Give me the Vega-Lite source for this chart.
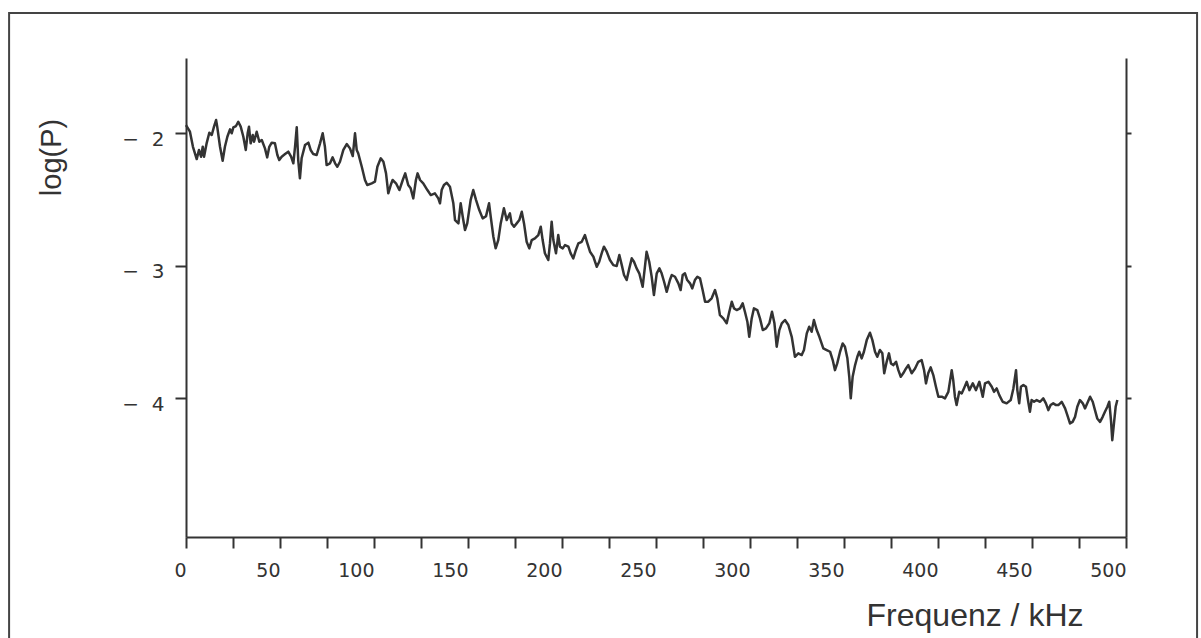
{
  "$schema": "https://vega.github.io/schema/vega-lite/v6.json",
  "width": 940,
  "height": 479,
  "autosize": {"type": "none"},
  "padding": {"left": 186, "top": 58, "right": 75, "bottom": 101},
  "background": "white",
  "config": {"view": {"stroke": null}},
  "resolve": {"axis": {"x": "independent", "y": "independent"}},
  "layer": [
    {
      "data": {"values": [{"frame": 1}]},
      "mark": {"type": "rect", "filled": false, "stroke": "#444444", "strokeWidth": 2, "clip": false},
      "encoding": {
        "x": {"datum": -94.1, "type": "quantitative", "scale": {"domain": [0, 500], "nice": false, "zero": false}, "axis": null},
        "x2": {"datum": 537.8},
        "y": {"datum": -1.09, "type": "quantitative", "scale": {"domain": [-5.05, -1.43], "nice": false, "zero": false},
          "axis": {"orient": "right", "values": [-2, -3, -4], "labels": false, "tickSize": 5, "tickWidth": 2, "tickColor": "#333333", "domainColor": "#333333", "domainWidth": 2, "grid": false, "title": null}},
        "y2": {"datum": -5.9}
      }
    },
    {
      "data": {"values": [
        {"kHz": 0.0, "logP": -1.937}, {"kHz": 2.1, "logP": -1.987}, {"kHz": 3.7, "logP": -2.101}, {"kHz": 5.7, "logP": -2.194}, {"kHz": 6.9, "logP": -2.125}, {"kHz": 8.0, "logP": -2.176}, {"kHz": 8.9, "logP": -2.101}, {"kHz": 9.6, "logP": -2.176}, {"kHz": 11.0, "logP": -2.073}, {"kHz": 12.4, "logP": -1.995}, {"kHz": 13.7, "logP": -2.012}, {"kHz": 14.9, "logP": -1.949}, {"kHz": 16.0, "logP": -1.899}, {"kHz": 16.6, "logP": -1.949}, {"kHz": 18.1, "logP": -2.101}, {"kHz": 19.5, "logP": -2.206}, {"kHz": 20.7, "logP": -2.101}, {"kHz": 22.0, "logP": -2.025}, {"kHz": 23.4, "logP": -1.969}, {"kHz": 24.3, "logP": -1.999}, {"kHz": 25.2, "logP": -1.954}, {"kHz": 26.6, "logP": -1.944}, {"kHz": 27.8, "logP": -1.912}, {"kHz": 29.1, "logP": -1.949}, {"kHz": 30.5, "logP": -2.025}, {"kHz": 31.8, "logP": -2.125}, {"kHz": 32.8, "logP": -1.999}, {"kHz": 33.5, "logP": -1.949}, {"kHz": 34.4, "logP": -2.075}, {"kHz": 35.5, "logP": -2.012}, {"kHz": 36.2, "logP": -2.063}, {"kHz": 37.6, "logP": -1.987}, {"kHz": 39.0, "logP": -2.063}, {"kHz": 40.3, "logP": -2.05}, {"kHz": 42.0, "logP": -2.113}, {"kHz": 43.2, "logP": -2.181}, {"kHz": 44.3, "logP": -2.101}, {"kHz": 45.6, "logP": -2.07}, {"kHz": 47.3, "logP": -2.075}, {"kHz": 48.6, "logP": -2.163}, {"kHz": 49.6, "logP": -2.201}, {"kHz": 50.9, "logP": -2.176}, {"kHz": 52.7, "logP": -2.156}, {"kHz": 54.4, "logP": -2.138}, {"kHz": 55.9, "logP": -2.176}, {"kHz": 57.1, "logP": -2.226}, {"kHz": 58.0, "logP": -2.101}, {"kHz": 58.9, "logP": -1.954}, {"kHz": 59.7, "logP": -2.201}, {"kHz": 60.6, "logP": -2.339}, {"kHz": 61.5, "logP": -2.188}, {"kHz": 63.3, "logP": -2.088}, {"kHz": 65.1, "logP": -2.07}, {"kHz": 66.3, "logP": -2.125}, {"kHz": 67.7, "logP": -2.156}, {"kHz": 69.5, "logP": -2.163}, {"kHz": 71.3, "logP": -2.075}, {"kHz": 72.7, "logP": -1.999}, {"kHz": 73.9, "logP": -2.101}, {"kHz": 74.8, "logP": -2.239}, {"kHz": 76.6, "logP": -2.226}, {"kHz": 78.0, "logP": -2.181}, {"kHz": 79.3, "logP": -2.226}, {"kHz": 80.5, "logP": -2.252}, {"kHz": 81.9, "logP": -2.214},
        {"kHz": 83.7, "logP": -2.125}, {"kHz": 85.5, "logP": -2.08}, {"kHz": 87.2, "logP": -2.113}, {"kHz": 88.7, "logP": -2.171}, {"kHz": 89.9, "logP": -1.999}, {"kHz": 90.8, "logP": -2.125}, {"kHz": 91.6, "logP": -2.15}, {"kHz": 93.5, "logP": -2.252}, {"kHz": 95.2, "logP": -2.352}, {"kHz": 96.4, "logP": -2.39}, {"kHz": 98.8, "logP": -2.377}, {"kHz": 100.5, "logP": -2.365}, {"kHz": 101.8, "logP": -2.252}, {"kHz": 103.6, "logP": -2.188}, {"kHz": 105.0, "logP": -2.214}, {"kHz": 106.4, "logP": -2.302}, {"kHz": 107.6, "logP": -2.453}, {"kHz": 108.9, "logP": -2.39}, {"kHz": 109.9, "logP": -2.352}, {"kHz": 111.7, "logP": -2.377}, {"kHz": 113.5, "logP": -2.428}, {"kHz": 115.3, "logP": -2.352}, {"kHz": 116.6, "logP": -2.302}, {"kHz": 118.2, "logP": -2.39}, {"kHz": 119.5, "logP": -2.415}, {"kHz": 120.9, "logP": -2.491}, {"kHz": 122.3, "logP": -2.352}, {"kHz": 123.2, "logP": -2.302}, {"kHz": 124.5, "logP": -2.352}, {"kHz": 126.2, "logP": -2.377}, {"kHz": 128.4, "logP": -2.428}, {"kHz": 130.2, "logP": -2.466}, {"kHz": 132.4, "logP": -2.453}, {"kHz": 134.2, "logP": -2.491}, {"kHz": 135.1, "logP": -2.528}, {"kHz": 136.0, "logP": -2.428}, {"kHz": 137.2, "logP": -2.39}, {"kHz": 138.7, "logP": -2.373}, {"kHz": 140.4, "logP": -2.403}, {"kHz": 142.2, "logP": -2.528}, {"kHz": 143.1, "logP": -2.655}, {"kHz": 144.9, "logP": -2.68}, {"kHz": 146.1, "logP": -2.528}, {"kHz": 147.2, "logP": -2.63}, {"kHz": 148.4, "logP": -2.73}, {"kHz": 149.6, "logP": -2.68}, {"kHz": 151.4, "logP": -2.504}, {"kHz": 152.8, "logP": -2.428}, {"kHz": 154.3, "logP": -2.504}, {"kHz": 156.0, "logP": -2.579}, {"kHz": 157.8, "logP": -2.642}, {"kHz": 159.6, "logP": -2.625}, {"kHz": 161.2, "logP": -2.528}, {"kHz": 162.1, "logP": -2.63}, {"kHz": 163.5, "logP": -2.781}, {"kHz": 164.7, "logP": -2.868}, {"kHz": 166.1, "logP": -2.806}, {"kHz": 167.4, "logP": -2.68}, {"kHz": 169.1, "logP": -2.566}, {"kHz": 170.6, "logP": -2.655},
        {"kHz": 171.4, "logP": -2.63}, {"kHz": 172.3, "logP": -2.604}, {"kHz": 173.2, "logP": -2.68}, {"kHz": 174.5, "logP": -2.705}, {"kHz": 175.9, "logP": -2.68}, {"kHz": 177.3, "logP": -2.655}, {"kHz": 178.6, "logP": -2.592}, {"kHz": 179.8, "logP": -2.68}, {"kHz": 181.2, "logP": -2.819}, {"kHz": 182.6, "logP": -2.869}, {"kHz": 183.9, "logP": -2.806}, {"kHz": 185.6, "logP": -2.793}, {"kHz": 187.4, "logP": -2.768}, {"kHz": 188.7, "logP": -2.705}, {"kHz": 189.7, "logP": -2.806}, {"kHz": 190.9, "logP": -2.906}, {"kHz": 192.7, "logP": -2.957}, {"kHz": 193.6, "logP": -2.831}, {"kHz": 194.5, "logP": -2.667}, {"kHz": 195.4, "logP": -2.806}, {"kHz": 196.8, "logP": -2.906}, {"kHz": 198.0, "logP": -2.768}, {"kHz": 198.9, "logP": -2.856}, {"kHz": 200.4, "logP": -2.869}, {"kHz": 201.6, "logP": -2.844}, {"kHz": 203.4, "logP": -2.856}, {"kHz": 204.6, "logP": -2.906}, {"kHz": 206.0, "logP": -2.944}, {"kHz": 207.4, "logP": -2.881}, {"kHz": 208.7, "logP": -2.831}, {"kHz": 210.5, "logP": -2.819}, {"kHz": 212.2, "logP": -2.768}, {"kHz": 213.5, "logP": -2.831}, {"kHz": 214.9, "logP": -2.894}, {"kHz": 216.7, "logP": -2.932}, {"kHz": 218.5, "logP": -3.008}, {"kHz": 219.8, "logP": -2.97}, {"kHz": 221.1, "logP": -2.906}, {"kHz": 222.3, "logP": -2.856}, {"kHz": 223.8, "logP": -2.894}, {"kHz": 225.5, "logP": -2.957}, {"kHz": 227.3, "logP": -2.995}, {"kHz": 229.1, "logP": -3.002}, {"kHz": 230.5, "logP": -2.919}, {"kHz": 231.8, "logP": -2.995}, {"kHz": 233.0, "logP": -3.07}, {"kHz": 234.4, "logP": -3.108}, {"kHz": 235.8, "logP": -3.02}, {"kHz": 237.1, "logP": -2.944}, {"kHz": 238.3, "logP": -2.97}, {"kHz": 239.7, "logP": -3.02}, {"kHz": 241.1, "logP": -3.057}, {"kHz": 242.9, "logP": -3.159}, {"kHz": 244.1, "logP": -3.008}, {"kHz": 245.0, "logP": -2.894}, {"kHz": 246.4, "logP": -2.97}, {"kHz": 247.7, "logP": -3.083}, {"kHz": 248.9, "logP": -3.221}, {"kHz": 250.4, "logP": -3.057}, {"kHz": 251.8, "logP": -3.02}, {"kHz": 253.0, "logP": -3.057}, {"kHz": 254.3, "logP": -3.121}, {"kHz": 255.7, "logP": -3.197}, {"kHz": 257.4, "logP": -3.108},
        {"kHz": 258.4, "logP": -3.07}, {"kHz": 260.1, "logP": -3.083}, {"kHz": 261.9, "logP": -3.133}, {"kHz": 263.1, "logP": -3.184}, {"kHz": 264.2, "logP": -3.07}, {"kHz": 265.4, "logP": -3.057}, {"kHz": 266.6, "logP": -3.108}, {"kHz": 268.1, "logP": -3.133}, {"kHz": 269.3, "logP": -3.171}, {"kHz": 270.7, "logP": -3.108}, {"kHz": 272.0, "logP": -3.083}, {"kHz": 273.4, "logP": -3.095}, {"kHz": 274.8, "logP": -3.184}, {"kHz": 276.1, "logP": -3.272}, {"kHz": 277.8, "logP": -3.272}, {"kHz": 279.6, "logP": -3.246}, {"kHz": 281.4, "logP": -3.184}, {"kHz": 282.6, "logP": -3.246}, {"kHz": 284.0, "logP": -3.373}, {"kHz": 285.8, "logP": -3.398}, {"kHz": 287.6, "logP": -3.435}, {"kHz": 289.0, "logP": -3.348}, {"kHz": 290.3, "logP": -3.272}, {"kHz": 291.5, "logP": -3.322}, {"kHz": 292.9, "logP": -3.335}, {"kHz": 294.7, "logP": -3.322}, {"kHz": 296.1, "logP": -3.284}, {"kHz": 297.3, "logP": -3.348}, {"kHz": 298.6, "logP": -3.423}, {"kHz": 299.6, "logP": -3.537}, {"kHz": 300.9, "logP": -3.398}, {"kHz": 302.1, "logP": -3.322}, {"kHz": 303.9, "logP": -3.335}, {"kHz": 305.3, "logP": -3.398}, {"kHz": 306.8, "logP": -3.486}, {"kHz": 308.5, "logP": -3.473}, {"kHz": 310.3, "logP": -3.435}, {"kHz": 311.7, "logP": -3.348}, {"kHz": 313.0, "logP": -3.435}, {"kHz": 314.2, "logP": -3.612}, {"kHz": 315.6, "logP": -3.486}, {"kHz": 316.9, "logP": -3.435}, {"kHz": 318.6, "logP": -3.41}, {"kHz": 320.4, "logP": -3.448}, {"kHz": 322.2, "logP": -3.537}, {"kHz": 323.9, "logP": -3.688}, {"kHz": 325.7, "logP": -3.662}, {"kHz": 327.5, "logP": -3.675}, {"kHz": 328.7, "logP": -3.637}, {"kHz": 330.2, "logP": -3.511}, {"kHz": 331.5, "logP": -3.461}, {"kHz": 332.8, "logP": -3.499}, {"kHz": 334.0, "logP": -3.41}, {"kHz": 335.5, "logP": -3.486}, {"kHz": 336.9, "logP": -3.537}, {"kHz": 339.0, "logP": -3.624}, {"kHz": 340.8, "logP": -3.637},
        {"kHz": 342.6, "logP": -3.65}, {"kHz": 344.0, "logP": -3.713}, {"kHz": 345.2, "logP": -3.789}, {"kHz": 346.4, "logP": -3.738}, {"kHz": 347.9, "logP": -3.65}, {"kHz": 349.3, "logP": -3.587}, {"kHz": 350.5, "logP": -3.612}, {"kHz": 351.8, "logP": -3.7}, {"kHz": 352.8, "logP": -3.839}, {"kHz": 353.6, "logP": -4.002}, {"kHz": 354.6, "logP": -3.839}, {"kHz": 355.9, "logP": -3.751}, {"kHz": 357.1, "logP": -3.688}, {"kHz": 358.1, "logP": -3.65}, {"kHz": 359.4, "logP": -3.7}, {"kHz": 360.6, "logP": -3.65}, {"kHz": 362.1, "logP": -3.562}, {"kHz": 363.8, "logP": -3.506}, {"kHz": 365.1, "logP": -3.562}, {"kHz": 366.5, "logP": -3.65}, {"kHz": 367.7, "logP": -3.688}, {"kHz": 369.1, "logP": -3.637}, {"kHz": 370.4, "logP": -3.662}, {"kHz": 371.4, "logP": -3.813}, {"kHz": 372.7, "logP": -3.726}, {"kHz": 373.9, "logP": -3.662}, {"kHz": 375.0, "logP": -3.738}, {"kHz": 376.2, "logP": -3.751}, {"kHz": 377.7, "logP": -3.726}, {"kHz": 378.9, "logP": -3.789}, {"kHz": 380.2, "logP": -3.839}, {"kHz": 381.5, "logP": -3.813}, {"kHz": 383.0, "logP": -3.776}, {"kHz": 384.2, "logP": -3.751}, {"kHz": 386.0, "logP": -3.813}, {"kHz": 387.8, "logP": -3.776}, {"kHz": 389.5, "logP": -3.726}, {"kHz": 391.3, "logP": -3.713}, {"kHz": 392.6, "logP": -3.789}, {"kHz": 393.6, "logP": -3.889}, {"kHz": 394.8, "logP": -3.813}, {"kHz": 396.1, "logP": -3.768}, {"kHz": 397.5, "logP": -3.826}, {"kHz": 398.9, "logP": -3.915}, {"kHz": 400.2, "logP": -3.99}, {"kHz": 402.0, "logP": -3.99}, {"kHz": 403.7, "logP": -4.002}, {"kHz": 405.5, "logP": -3.953}, {"kHz": 407.3, "logP": -3.789}, {"kHz": 408.1, "logP": -3.864}, {"kHz": 409.0, "logP": -3.99}, {"kHz": 409.9, "logP": -4.053}, {"kHz": 411.3, "logP": -3.953}, {"kHz": 412.6, "logP": -3.965}, {"kHz": 413.8, "logP": -3.927}, {"kHz": 415.3, "logP": -3.877}, {"kHz": 416.7, "logP": -3.94}, {"kHz": 418.5, "logP": -3.889}, {"kHz": 420.2, "logP": -3.94}, {"kHz": 422.0, "logP": -3.877},
        {"kHz": 423.8, "logP": -3.99}, {"kHz": 425.0, "logP": -3.889}, {"kHz": 426.8, "logP": -3.877}, {"kHz": 428.6, "logP": -3.915}, {"kHz": 429.8, "logP": -3.953}, {"kHz": 431.2, "logP": -3.927}, {"kHz": 432.6, "logP": -3.978}, {"kHz": 434.4, "logP": -4.028}, {"kHz": 436.5, "logP": -4.04}, {"kHz": 438.7, "logP": -4.015}, {"kHz": 440.1, "logP": -3.927}, {"kHz": 441.5, "logP": -3.789}, {"kHz": 442.2, "logP": -3.94}, {"kHz": 443.2, "logP": -4.04}, {"kHz": 444.1, "logP": -3.915}, {"kHz": 445.4, "logP": -3.902}, {"kHz": 446.8, "logP": -3.915}, {"kHz": 448.0, "logP": -4.028}, {"kHz": 448.9, "logP": -4.104}, {"kHz": 449.8, "logP": -4.015}, {"kHz": 451.1, "logP": -4.028}, {"kHz": 452.5, "logP": -4.015}, {"kHz": 454.3, "logP": -4.028}, {"kHz": 456.0, "logP": -4.002}, {"kHz": 457.4, "logP": -4.04}, {"kHz": 458.7, "logP": -4.091}, {"kHz": 459.9, "logP": -4.053}, {"kHz": 461.3, "logP": -4.04}, {"kHz": 462.8, "logP": -4.053}, {"kHz": 464.0, "logP": -4.053}, {"kHz": 465.8, "logP": -4.028}, {"kHz": 467.6, "logP": -4.078}, {"kHz": 468.8, "logP": -4.129}, {"kHz": 470.2, "logP": -4.192}, {"kHz": 471.6, "logP": -4.18}, {"kHz": 472.9, "logP": -4.142}, {"kHz": 474.1, "logP": -4.066}, {"kHz": 475.5, "logP": -4.015}, {"kHz": 477.0, "logP": -4.04}, {"kHz": 478.2, "logP": -4.078}, {"kHz": 479.4, "logP": -4.04}, {"kHz": 480.9, "logP": -3.99}, {"kHz": 482.3, "logP": -4.028}, {"kHz": 483.5, "logP": -4.091}, {"kHz": 484.7, "logP": -4.154}, {"kHz": 486.2, "logP": -4.18}, {"kHz": 487.6, "logP": -4.142}, {"kHz": 488.8, "logP": -4.104}, {"kHz": 490.1, "logP": -4.066}, {"kHz": 491.1, "logP": -4.028}, {"kHz": 492.0, "logP": -4.166}, {"kHz": 492.7, "logP": -4.318}, {"kHz": 493.6, "logP": -4.192}, {"kHz": 494.5, "logP": -4.066}, {"kHz": 495.4, "logP": -4.015}
      ]},
      "mark": {"type": "line", "color": "#333333", "strokeWidth": 2.5, "strokeJoin": "round"},
      "encoding": {
        "x": {"field": "kHz", "type": "quantitative",
          "scale": {"domain": [0, 500], "nice": false, "zero": false},
          "axis": {"orient": "bottom", "values": [0, 25, 50, 75, 100, 125, 150, 175, 200, 225, 250, 275, 300, 325, 350, 375, 400, 425, 450, 475, 500],
            "labelExpr": "datum.value % 50 == 0 ? datum.label : ''",
            "grid": false, "tickSize": 11, "tickWidth": 2, "tickColor": "#333333", "domainColor": "#333333", "domainWidth": 2,
            "labelFont": "DejaVu Sans", "labelFontSize": 19, "labelColor": "#333333", "labelAlign": "right", "labelBaseline": "top", "labelPadding": 13,
            "labelFlush": false, "labelOverlap": false, "labelBound": false,
            "title": "Frequenz / kHz", "titleFont": "Liberation Sans", "titleFontSize": 32, "titleFontWeight": "normal", "titleColor": "#333333",
            "titleX": 897, "titleY": 88, "titleAlign": "right", "titleBaseline": "alphabetic"}},
        "y": {"field": "logP", "type": "quantitative",
          "scale": {"domain": [-5.05, -1.43], "nice": false, "zero": false},
          "axis": {"orient": "left", "values": [-2, -3, -4],
            "labelExpr": "'\u2212\u00a0\u00a0' + format(abs(datum.value), 'd')",
            "grid": false, "tickSize": 11, "tickWidth": 2, "tickColor": "#333333", "domainColor": "#333333", "domainWidth": 2,
            "labelFont": "DejaVu Sans", "labelFontSize": 20, "labelColor": "#333333", "labelAlign": "right", "labelBaseline": "middle", "labelPadding": 11, "labelOffset": 6,
            "labelFlush": false, "labelOverlap": false, "labelBound": false,
            "title": "log(P)", "titleFont": "Liberation Sans", "titleFontSize": 29, "titleFontWeight": "normal", "titleColor": "#333333",
            "titleAngle": -90, "titleX": -126, "titleY": 99, "titleAlign": "center", "titleBaseline": "alphabetic"}}
      }
    }
  ]
}
